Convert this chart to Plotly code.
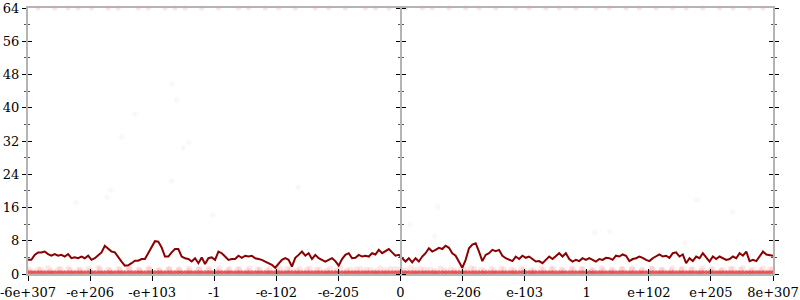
import numpy as np
import plotly.graph_objects as go

# ---- data ----
tick_labels = ['-6e+307', '-e+206', '-e+103', '-1', '-e-102', '-e-205', '0',
               'e-206', 'e-103', '1', 'e+102', 'e+205', '8e+307']

# smoothed value per bin (dark red line), left to right
line_seg1 = [3.4, 3.4, 4.6, 5.2, 5.2, 5.4, 4.8, 4.4, 4.8, 4.4, 4.6, 4.2, 4.8, 3.8, 4.0,
             3.8, 4.2, 3.8, 4.4, 3.4, 3.8, 4.6, 5.2, 6.8, 6.0, 5.4, 5.2, 4.0, 3.0, 2.0,
             2.1, 2.6, 3.2, 3.2, 3.6, 3.6, 5.0, 6.2, 7.9, 7.8, 6.4, 4.2, 4.2, 5.2, 6.0,
             6.0, 4.2, 3.8, 3.6, 3.0, 3.8, 2.6, 4.0, 2.4, 3.8, 4.0, 3.4, 5.4]
line_seg2 = [5.0, 4.2, 3.4, 3.6, 3.6, 4.4, 3.9, 4.4, 4.2, 4.4, 3.8, 3.6, 3.4, 3.0, 2.6,
             2.2, 1.5, 2.6, 3.4, 3.8, 3.4, 1.8, 3.9, 4.6, 5.4, 4.4, 5.0, 3.6, 4.6, 3.8,
             3.4, 3.0, 3.4, 3.8, 3.1, 2.0, 3.6, 4.6, 5.0, 3.8, 3.9, 4.6, 4.2, 4.4, 4.2,
             5.0, 4.7, 5.8, 5.0, 5.5, 6.0, 5.2, 4.4, 4.6, 3.8]
line_seg3 = [3.0, 3.8, 2.8, 3.8, 3.0, 4.2, 5.0, 6.2, 5.4, 5.8, 6.3, 6.0, 6.8, 6.3, 5.0,
             4.4, 3.1, 1.5, 3.4, 6.2, 7.1, 7.4, 5.4, 3.1, 4.6, 5.0, 5.8, 5.5, 5.8, 4.4,
             3.8, 3.4, 3.1, 4.2, 3.6, 4.4, 3.9, 4.2, 3.6, 3.0, 3.1, 2.6, 3.4, 4.2, 3.6,
             4.4, 5.0, 4.2, 5.0, 3.6, 3.0, 3.4, 3.1, 3.8, 3.4, 3.8]
line_seg4 = [3.4, 3.0, 3.6, 3.4, 3.9, 3.8, 3.4, 4.4, 4.2, 4.7, 4.4, 3.1, 3.6, 3.8, 4.2,
             3.9, 3.4, 3.1, 3.8, 4.2, 4.7, 4.2, 4.4, 3.9, 5.0, 5.2, 4.2, 4.7, 2.6, 3.8,
             3.1, 4.2, 3.8, 5.0, 3.9, 3.0, 4.2, 3.6, 4.2, 3.8, 3.4, 3.6, 4.2, 3.8, 5.0,
             4.4, 5.4, 3.1, 3.4, 3.1, 4.4, 5.4, 4.7, 4.6, 4.4]
line_values = line_seg1 + line_seg2 + line_seg3 + line_seg4

# dense band of low sample values (pink band near zero)
band_a = [1.2, 1.0, 1.4, 1.1, 1.3, 0.9, 1.2, 1.5, 1.0, 1.2, 1.3, 1.1, 1.4, 1.0, 1.2,
          1.1, 1.3, 1.2, 0.9, 1.4, 1.2, 1.1, 1.3, 1.0, 1.2, 1.4, 1.1, 1.2, 1.3, 1.0,
          1.2, 1.5, 1.1, 1.2, 1.0, 1.3, 1.2, 1.1, 1.4, 1.2, 1.0, 1.3, 1.1, 1.2, 1.4,
          1.0, 1.2, 1.3, 1.1, 1.2, 0.9, 1.4, 1.2, 1.1, 1.3, 1.2, 1.0, 1.4, 1.1, 1.2,
          1.3, 1.1, 1.2, 1.0, 1.4, 1.2, 1.1, 1.3, 1.2, 1.0, 1.2, 1.4, 1.1, 1.3, 1.2]
band_b = [0.8, 1.1, 0.7, 1.2, 0.9, 1.0, 0.8, 1.1, 0.7, 0.9, 1.2, 0.8, 1.0, 0.7, 1.1,
          0.9, 0.8, 1.0, 1.2, 0.7, 0.9, 1.1, 0.8, 1.0, 0.7, 0.9, 1.2, 0.8, 1.0, 1.1,
          0.7, 0.9, 0.8, 1.1, 1.0, 0.7, 0.9, 1.2, 0.8, 1.0, 1.1, 0.7, 0.9, 0.8, 1.0,
          1.2, 0.7, 0.9, 1.1, 0.8, 1.0, 0.7, 0.9, 1.2, 0.8, 1.1, 1.0, 0.7, 0.9, 0.8,
          1.1, 1.0, 0.7, 1.2, 0.9, 0.8, 1.0, 1.1, 0.7, 0.9, 0.8, 1.2, 1.0, 0.7, 0.9, 1.1]
floor_value = 0.4
# samples at the top (value 64), given by bin number
top_bins = [3, 8, 12, 15, 19, 24, 27, 33, 36, 41, 44, 47, 52, 57, 63, 66, 71, 75, 80,
            86, 90, 95, 101, 104, 108, 113, 118, 121, 126, 131, 135, 140, 146, 150,
            155, 159, 164, 170, 174, 179, 183, 188, 193, 197, 202, 207, 211, 216, 220]
# sparse stray samples (position in tick units, value)
stray_x = [0.77, 1.27, 1.33, 1.51, 1.72, 2.31, 2.32, 2.39, 2.50, 2.59, 2.98, 4.35,
           6.15, 6.55, 6.60, 9.13, 9.37, 10.58, 10.77, 11.35]
stray_y = [17.2, 18.5, 20.2, 32.9, 38.5, 22.4, 45.7, 41.9, 30.4, 31.6, 14.2, 20.9,
           11.8, 9.0, 16.2, 9.9, 10.2, 7.5, 17.8, 15.0]

# ---- figure ----
n = len(line_values)
bins_x = np.linspace(0, 12, n)
band_a_x = np.linspace(0, 12, len(band_a))
band_b_x = np.linspace(0.05, 11.95, len(band_b))
top_x = [bins_x[i] for i in top_bins]

fig = go.Figure()

for bx, by in [(band_a_x, band_a), (band_b_x, band_b)]:
    fig.add_trace(go.Scatter(x=bx, y=by, mode='markers',
                             marker=dict(size=6, color='rgba(240,70,70,0.13)', line=dict(width=0)),
                             hoverinfo='skip', showlegend=False))
fig.add_trace(go.Scatter(x=bins_x, y=[floor_value] * n, mode='markers',
                         marker=dict(size=4, color='rgba(228,40,40,0.75)', line=dict(width=0)),
                         hoverinfo='skip', showlegend=False))
fig.add_trace(go.Scatter(x=top_x, y=[64] * len(top_x), mode='markers',
                         marker=dict(size=5, color='rgba(240,80,80,0.16)', line=dict(width=0)),
                         hoverinfo='skip', showlegend=False, cliponaxis=False))
fig.add_trace(go.Scatter(x=stray_x, y=stray_y, mode='markers',
                         marker=dict(size=5, color='rgba(240,80,80,0.06)', line=dict(width=0)),
                         hoverinfo='skip', showlegend=False))
fig.add_trace(go.Scatter(x=bins_x, y=line_values, mode='lines',
                         line=dict(color='#8b0000', width=2),
                         hoverinfo='skip', showlegend=False))

# dummy traces so the overlay axes are drawn
for ya in ['y2', 'y3', 'y4', 'y5', 'y6']:
    fig.add_trace(go.Scatter(x=[None], y=[None], yaxis=ya, showlegend=False, hoverinfo='skip'))
fig.add_trace(go.Scatter(x=[None], y=[None], xaxis='x2', showlegend=False, hoverinfo='skip'))

AX = '#b4b4b4'
font = dict(family='"DejaVu Serif", "Liberation Serif", "Times New Roman", serif', size=13, color='black')
common_y = dict(range=[0, 64], dtick=8, tick0=0, showgrid=False, zeroline=False,
                tickcolor='black', tickwidth=1, ticklen=4, automargin=False,
                minor=dict(dtick=4, ticklen=2, tickcolor='#555', tickwidth=1))

fig.update_layout(
    width=800, height=300,
    margin=dict(l=28, r=27, t=8, b=26, autoexpand=False),
    plot_bgcolor='white', paper_bgcolor='white',
    font=font,
    xaxis=dict(range=[0, 12], tickvals=list(range(13)), ticktext=tick_labels,
               ticks='outside', ticklen=5, tickcolor='black', tickwidth=1,
               showline=True, linecolor=AX, linewidth=2, mirror=True, automargin=False,
               ticklabeloverflow='allow',
               showgrid=False, zeroline=False, tickfont=font),
    xaxis2=dict(range=[0, 12], overlaying='x', anchor='y', side='bottom', automargin=False,
                tickvals=list(range(13)), ticks='inside', ticklen=5, tickcolor='black',
                showticklabels=False, showline=False, showgrid=False, zeroline=False),
    yaxis=dict(**common_y, ticks='outside', side='left', ticklabeloverflow='allow',
               showline=True, linecolor=AX, linewidth=2, tickfont=font),
    yaxis2=dict(**common_y, ticks='inside', overlaying='y', side='left', anchor='x',
                showticklabels=False, showline=False),
    yaxis3=dict(**common_y, ticks='outside', overlaying='y', side='right', anchor='x',
                showticklabels=False, showline=True, linecolor=AX, linewidth=2),
    yaxis4=dict(**common_y, ticks='inside', overlaying='y', side='right', anchor='x',
                showticklabels=False, showline=False),
    yaxis5=dict(**common_y, ticks='outside', overlaying='y', side='left', anchor='free',
                position=0.5, showticklabels=False, showline=True, linecolor=AX, linewidth=2),
    yaxis6=dict(**common_y, ticks='outside', overlaying='y', side='right', anchor='free',
                position=0.5, showticklabels=False, showline=False),
)
for name in ['yaxis2', 'yaxis4']:
    fig.layout[name].minor.ticks = 'inside'
for name in ['yaxis', 'yaxis3', 'yaxis5', 'yaxis6']:
    fig.layout[name].minor.ticks = 'outside'

fig.write_html('out.html')
